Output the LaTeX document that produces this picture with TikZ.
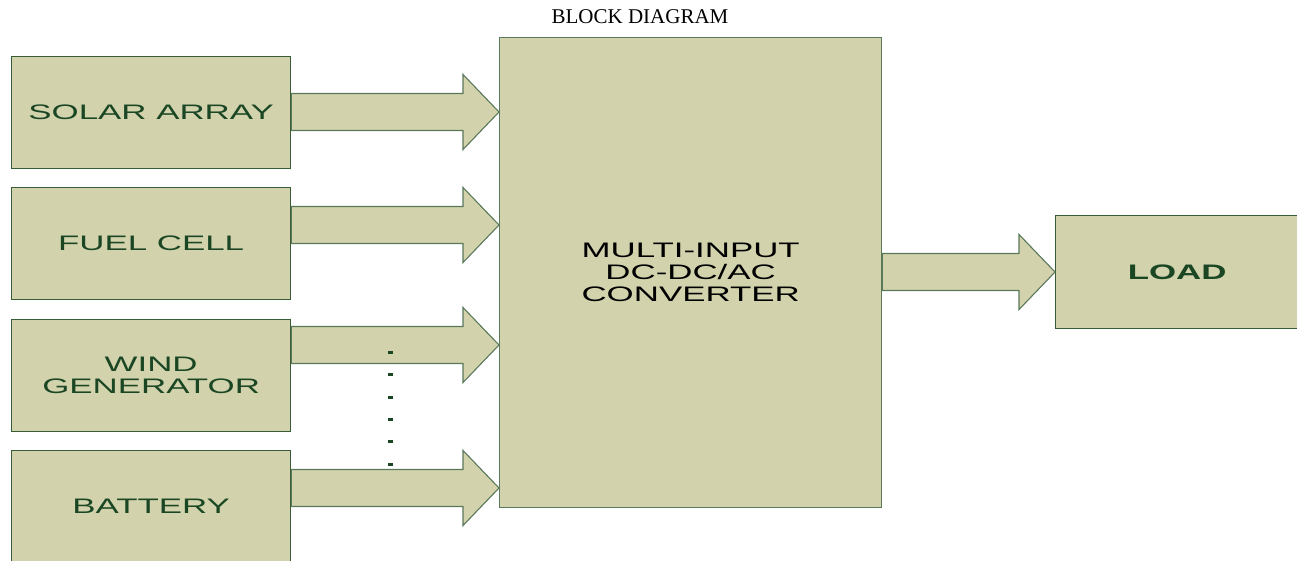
\documentclass[tikz,border=0pt]{standalone}
\usepackage{fontspec}
\setmainfont{Liberation Serif}
\newfontfamily\lbl[FakeStretch=1.66]{Liberation Sans}
\usetikzlibrary{calc}
\definecolor{boxfill}{RGB}{210,211,172}
\definecolor{boxline}{RGB}{55,92,55}
\definecolor{arrline}{RGB}{90,120,90}
\definecolor{txtgreen}{RGB}{26,70,36}
\tikzset{
  blk/.style={draw=boxline, fill=boxfill, line width=1.3pt, anchor=north west,
     inner sep=0pt, align=center, text=txtgreen,
     font=\lbl\fontsize{21pt}{22pt}\selectfont},
  arr/.style={draw=arrline, fill=boxfill, line width=1.1pt, line join=miter},
  dotmark/.style={fill=txtgreen, draw=none, minimum width=5pt, minimum height=3pt, inner sep=0pt}
}
\newcommand{\blockarr}[2]{%
  \draw[arr] ($(#1.east|-#2)+(0,-18.5)$) -- ($(#2)+(-36,-18.5)$) -- ($(#2)+(-36,-37.5)$) -- (#2)
    -- ($(#2)+(-36,37.5)$) -- ($(#2)+(-36,18.5)$) -- ($(#1.east|-#2)+(0,18.5)$) -- cycle;}
\begin{document}
\begin{tikzpicture}[x=1pt,y=-1pt]
\useasboundingbox (0,0) rectangle (1297,560);
\node[font=\fontsize{21pt}{22pt}\selectfont] (title) at (640,17) {BLOCK DIAGRAM};

\node[blk, minimum width=279pt, minimum height=112pt] (solar) at (11,56) {SOLAR ARRAY};
\node[blk, minimum width=279pt, minimum height=112pt] (fuel) at (11,187) {FUEL CELL};
\node[blk, minimum width=279pt, minimum height=112pt] (wind) at (11,319) {WIND\\GENERATOR};
\node[blk, minimum width=279pt, minimum height=130pt, text depth=18pt] (batt) at (11,450) {BATTERY};

\node[blk, minimum width=382pt, minimum height=470pt, text=black, draw=arrline] (conv) at (499,37) {MULTI-INPUT\\DC-DC/AC\\CONVERTER};
\node[blk, minimum width=243pt, minimum height=113pt, font=\lbl\bfseries\fontsize{21pt}{22pt}\selectfont] (load) at (1055,215) {LOAD};

\coordinate (t1) at (conv.west|-0,112);
\coordinate (t2) at (conv.west|-0,225);
\coordinate (t3) at (conv.west|-0,345);
\coordinate (t4) at (conv.west|-0,488);
\coordinate (t5) at (load.west|-0,272);

\blockarr{solar}{t1}
\blockarr{fuel}{t2}
\blockarr{wind}{t3}
\blockarr{batt}{t4}
\blockarr{conv}{t5}

\foreach \i/\yy in {1/352,2/374,3/397,4/419,5/441,6/464}
  \node[dotmark] (d\i) at (390.5,\yy) {};
\end{tikzpicture}
\end{document}
